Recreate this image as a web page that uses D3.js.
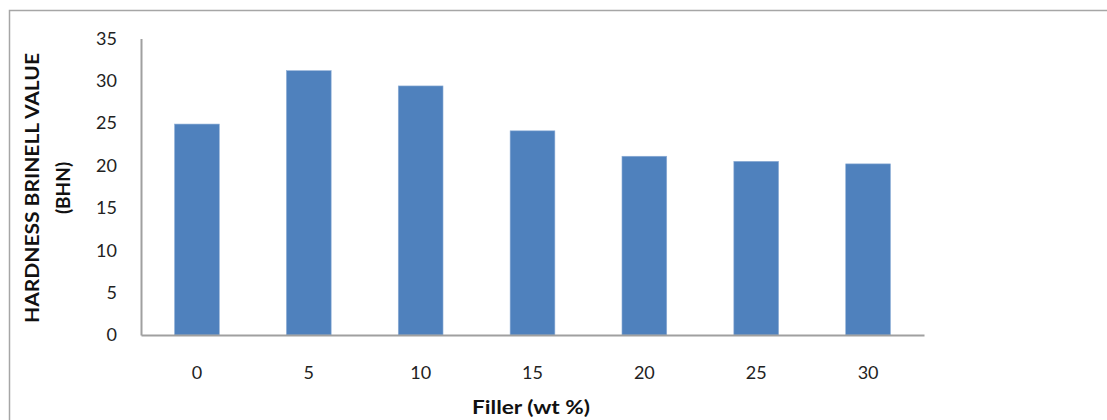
<!DOCTYPE html>
<html>
<head>
<meta charset="utf-8">
<script src="https://cdn.jsdelivr.net/npm/d3@7"></script>
<style>
  html, body { margin: 0; padding: 0; background: #fff; }
  svg { display: block; }
</style>
</head>
<body>
<svg id="chart" width="1107" height="420"></svg>
<script>
// Filler content (wt %) and measured Brinell hardness
const fillerLevels = ["0", "5", "10", "15", "20", "25", "30"];
const hardnessValues = [24.9, 31.2, 29.4, 24.1, 21.1, 20.5, 20.2];
const yTickValues = [0, 5, 10, 15, 20, 25, 30, 35];
const yTitleLines = ["HARDNESS BRINELL VALUE", "(BHN)"];
const xTitle = "Filler (wt %)";

const svg = d3.select("#chart");
const font = "Lato, 'Open Sans', sans-serif";

// Outer chart frame
svg.append("rect")
  .attr("x", 9.5).attr("y", 10.5)
  .attr("width", 1110).attr("height", 420)
  .attr("fill", "none")
  .attr("stroke", "#a6a6a6")
  .attr("stroke-width", 1.5);

const plot = { left: 141, right: 924, top: 38.5, bottom: 335 };

const x = d3.scaleBand()
  .domain(fillerLevels)
  .range([plot.left, plot.right])
  .paddingInner(0.6)
  .paddingOuter(0.3);

const y = d3.scaleLinear()
  .domain([0, 35])
  .range([plot.bottom, plot.top]);

// Bars
svg.append("g")
  .selectAll("rect")
  .data(hardnessValues)
  .join("rect")
  .attr("x", (d, i) => x(fillerLevels[i]))
  .attr("y", d => y(d))
  .attr("width", x.bandwidth())
  .attr("height", d => y(0) - y(d))
  .attr("fill", "#4f81bd")
  .attr("stroke", "#8eaed6")
  .attr("stroke-width", 0.6);

// Y axis
const yAxis = svg.append("g")
  .attr("transform", `translate(${plot.left},0)`)
  .call(d3.axisLeft(y).tickValues(yTickValues).tickSize(0).tickPadding(24));
yAxis.select(".domain").attr("stroke", "#a0a0a0").attr("stroke-width", 2);
yAxis.selectAll("text")
  .attr("font-family", font)
  .attr("font-size", 18)
  .attr("fill", "#222");

// X axis
const xAxis = svg.append("g")
  .attr("transform", `translate(0,${plot.bottom})`)
  .call(d3.axisBottom(x).tickSize(0).tickPadding(31));
xAxis.select(".domain").attr("stroke", "#a0a0a0").attr("stroke-width", 2);
xAxis.selectAll("text")
  .attr("font-family", font)
  .attr("font-size", 18)
  .attr("fill", "#222");

// Y axis title (two lines, rotated)
const yTitle = svg.append("text")
  .attr("transform", `translate(39,188) rotate(-90)`)
  .attr("text-anchor", "middle")
  .attr("font-family", font)
  .attr("font-weight", "bold")
  .attr("font-size", 19)
  .attr("fill", "#111");
yTitle.selectAll("tspan")
  .data(yTitleLines)
  .join("tspan")
  .attr("x", 0)
  .attr("dy", (d, i) => i === 0 ? 0 : 31)
  .attr("textLength", (d, i) => i === 0 ? 270 : null)
  .attr("lengthAdjust", "spacingAndGlyphs")
  .text(d => d);

// X axis title
svg.append("text")
  .attr("x", 531)
  .attr("y", 414)
  .attr("text-anchor", "middle")
  .attr("font-family", font)
  .attr("font-weight", "bold")
  .attr("font-size", 19)
  .attr("textLength", 118)
  .attr("lengthAdjust", "spacingAndGlyphs")
  .attr("fill", "#111")
  .text(xTitle);
</script>
</body>
</html>
